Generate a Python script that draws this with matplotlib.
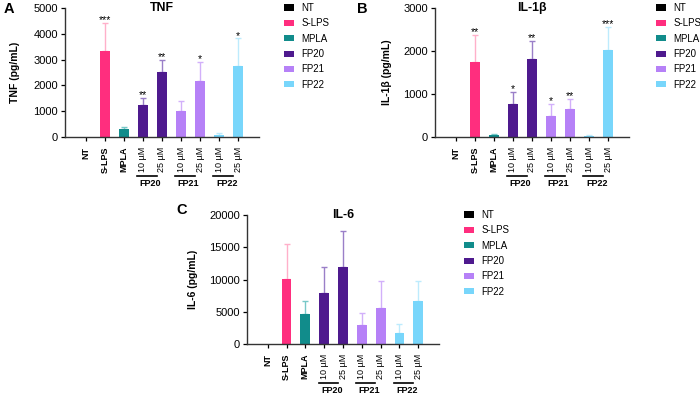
import numpy as np
import matplotlib
matplotlib.use("Agg")
import matplotlib.pyplot as plt
from matplotlib.patches import Patch
import matplotlib.transforms as mtransforms

plt.rcParams['font.family'] = ['Liberation Sans', 'DejaVu Sans']

# categories and legend groups
groups = ['NT', 'S-LPS', 'MPLA', 'FP20', 'FP21', 'FP22']
tick_labels = ['NT', 'S-LPS', 'MPLA', '10 µM', '25 µM', '10 µM', '25 µM', '10 µM', '25 µM']
bold_ticks = [True, True, True, False, False, False, False, False, False]
pair_names = ['FP20', 'FP21', 'FP22']

# values (mean, sd)
tnf_mean = [0, 3350, 312, 1234, 2506, 1013, 2156, 78, 2753]
tnf_sd = [0, 1053, 78, 286, 494, 364, 766, 91, 1065]
tnf_stars = ['', '***', '', '**', '**', '', '*', '', '*']

il1b_mean = [0, 1750, 55, 758, 1805, 492, 648, 31, 2023]
il1b_sd = [0, 625, 15, 297, 429, 274, 227, 9, 539]
il1b_stars = ['', '**', '', '*', '**', '*', '**', '', '***']

il6_mean = [0, 10052, 4639, 7887, 11907, 2887, 5567, 1701, 6701]
il6_sd = [0, 5412, 2010, 4123, 5619, 1907, 4227, 1392, 3041]
il6_stars = [''] * 9

group_colors = ['#000000', '#FF2E7E', '#118C8B', '#4E1A8E', '#B681F7', '#78D6FB']
err_colors = ['#000000', '#FFB0CA', '#78C8C8', '#9A7FC8', '#D2B0FA', '#BDEBFD']
bar_group = [0, 1, 2, 3, 3, 4, 4, 5, 5]

fig = plt.figure(figsize=(7, 3.94), dpi=100)
W, H = 700, 394


def make_axes(left, top, right, bottom):
    return fig.add_axes([left / W, 1 - bottom / H, (right - left) / W, (bottom - top) / H])


def draw_panel(ax, mean, sd, stars, ymax, step, title, ylabel, letter, letter_xy, ylab_x, leg_xy):
    x = np.arange(len(mean))
    cols = [group_colors[g] for g in bar_group]
    ecols = [err_colors[g] for g in bar_group]
    ax.bar(x, mean, width=0.52, color=cols, zorder=2)
    for i in x:
        if sd[i] > 0:
            ax.errorbar(i, mean[i], yerr=[[0], [sd[i]]], fmt='none', ecolor=ecols[i],
                        elinewidth=1.0, capsize=2.3, capthick=1.0, zorder=1)
        if stars[i]:
            ax.annotate(stars[i], (i, mean[i] + sd[i]), xytext=(0, -1.5), textcoords='offset points',
                        ha='center', va='bottom', fontsize=7.5)
    ax.set_xlim(-1.1, 9.1)
    ax.set_ylim(0, ymax)
    ax.set_yticks(np.arange(0, ymax + 1, step))
    ax.set_xticks(x)
    ax.set_xticklabels(tick_labels, rotation=90, fontsize=6.5)
    for lab, b in zip(ax.get_xticklabels(), bold_ticks):
        if b:
            lab.set_fontweight('bold')
    ax.tick_params(axis='y', labelsize=8, length=3, width=0.9, pad=2)
    ax.tick_params(axis='x', length=3, width=0.9, pad=4)
    for s in ['top', 'right']:
        ax.spines[s].set_visible(False)
    for s in ['left', 'bottom']:
        ax.spines[s].set_linewidth(1.0)
        ax.spines[s].set_color('#333333')
    ax.set_ylabel(ylabel, fontsize=7.5, fontweight='bold')
    ax.yaxis.set_label_coords(ylab_x, 0.5)
    ax.text(0.5, 1.0, title, transform=ax.transAxes, ha='center', va='center',
            fontsize=8.8, fontweight='bold')
    fig.text(letter_xy[0] / W, 1 - letter_xy[1] / H, letter, ha='center', va='center',
             fontsize=10.5, fontweight='bold')
    trans = mtransforms.blended_transform_factory(ax.transData, ax.transAxes)
    for k, name in enumerate(pair_names):
        i = 3 + 2 * k
        ax.plot([i - 0.3, i + 0.72], [-0.3, -0.3], transform=trans, color='black',
                lw=1.2, clip_on=False)
        ax.text(i + 0.4, -0.36, name, transform=trans, ha='center', va='center',
                fontsize=6.5, fontweight='bold')
    handles = [Patch(facecolor=c, edgecolor='none') for c in group_colors]
    fig.legend(handles, groups, loc='upper left', bbox_to_anchor=(leg_xy[0] / W, 1 - leg_xy[1] / H),
               frameon=False, fontsize=7, handlelength=1.0, handleheight=0.6,
               handletextpad=0.8, labelspacing=0.55, borderaxespad=0, borderpad=0)


axA = make_axes(65, 8, 259, 137)
draw_panel(axA, tnf_mean, tnf_sd, tnf_stars, 5000, 1000, 'TNF', 'TNF (pg/mL)', 'A', (9, 9), -0.23, (284, 3))

axB = make_axes(435, 8, 629, 137)
draw_panel(axB, il1b_mean, il1b_sd, il1b_stars, 3000, 1000, 'IL-1β', 'IL-1β (pg/mL)', 'B', (362, 9), -0.22, (656, 3))

axC = make_axes(247, 215, 439, 344)
draw_panel(axC, il6_mean, il6_sd, il6_stars, 20000, 5000, 'IL-6', 'IL-6 (pg/mL)', 'C', (182, 210), -0.255, (464, 210))

fig.savefig('out.png', dpi=100)
